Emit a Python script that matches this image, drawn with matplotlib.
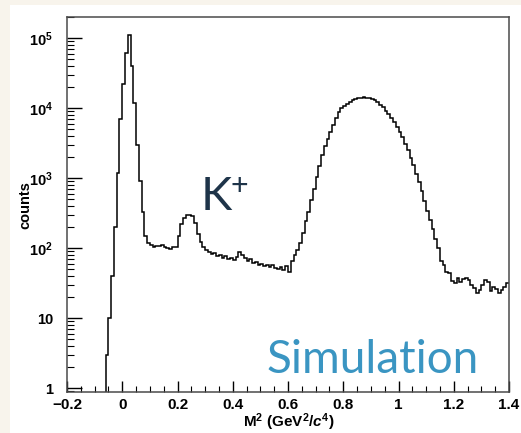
import numpy as np
import matplotlib
matplotlib.use('Agg')
import matplotlib.pyplot as plt
from matplotlib.patches import Rectangle
from matplotlib.ticker import FixedLocator, MultipleLocator

plt.rcParams['font.family'] = ['Liberation Sans', 'DejaVu Sans']
plt.rcParams['mathtext.fontset'] = 'custom'
plt.rcParams['mathtext.rm'] = 'Liberation Sans:bold'
plt.rcParams['mathtext.it'] = 'Liberation Sans:italic:bold'
plt.rcParams['mathtext.bf'] = 'Liberation Sans:bold'

# histogram: 160 bins of 0.01 from -0.2 to 1.4
edges = np.round(np.linspace(-0.2, 1.4, 161), 3)
counts = [
    0, 0, 0, 0, 0, 0, 0, 0, 0, 0,                                   # -0.20
    0, 0, 0, 0, 3, 10, 40, 200, 1200, 7000,                         # -0.10
    22000, 61000, 110000, 40000, 12000, 3000, 900, 330, 150, 118,   # 0.00
    110, 104, 108, 106, 110, 104, 100, 97, 102, 105,                # 0.10
    150, 220, 270, 295, 300, 285, 230, 160, 122, 105,               # 0.20
    94, 88, 82, 86, 76, 80, 72, 78, 70, 72,                         # 0.30
    68, 75, 88, 80, 72, 66, 70, 62, 64, 58,                         # 0.40
    60, 56, 58, 54, 57, 52, 50, 53, 48, 55,                         # 0.50
    46, 65, 80, 95, 118, 165, 240, 330, 480, 700,                   # 0.60
    1050, 1500, 2100, 2900, 3600, 4600, 5800, 7200, 8700, 9900,     # 0.70
    10600, 11600, 12300, 12900, 13400, 13700, 14000, 14200, 14100, 13900,  # 0.80
    13500, 12900, 12200, 11200, 10200, 9200, 8300, 7300, 6300, 5400,       # 0.90
    4600, 3800, 3100, 2500, 1950, 1550, 1150, 880, 650, 470,        # 1.00
    340, 250, 185, 135, 100, 66, 57, 45, 44, 34,                    # 1.10
    32, 37, 33, 36, 37, 35, 30, 27, 23, 25,                         # 1.20
    30, 35, 33, 24, 28, 26, 23, 25, 28, 32,                         # 1.30
]

y_ticks = [1, 10, 100, 1000, 10000, 100000]
y_labels = ['1', '10', '$10^{2}$', '$10^{3}$', '$10^{4}$', '$10^{5}$']
x_ticks = [-0.2, 0, 0.2, 0.4, 0.6, 0.8, 1, 1.2, 1.4]
x_labels = ['\u22120.2', '0', '0.2', '0.4', '0.6', '0.8', '1', '1.2', '1.4']

W, H = 521, 433
fig = plt.figure(figsize=(W / 100, H / 100), dpi=100)
fig.patch.set_facecolor('#f8f4ec')
fig.patches.append(Rectangle((10 / W, 0), 1, 1 - 5 / H, transform=fig.transFigure,
                             facecolor='white', edgecolor='none', zorder=-10))

ax = fig.add_axes([67 / W, 1 - 392 / H, (509 - 67) / W, (392 - 17) / H])
ax.set_zorder(1)
vals = np.maximum(np.array(counts, dtype=float), 1e-3)
ax.stairs(vals, edges, baseline=None, color='black', lw=1.1)

ax.set_yscale('log')
ax.set_xlim(-0.2, 1.4)
ax.set_ylim(0.877, 2.0e5)

ax.yaxis.set_major_locator(FixedLocator(y_ticks))
ax.set_yticklabels(y_labels, fontweight='bold', fontsize=10.5)
ax.xaxis.set_major_locator(FixedLocator(x_ticks))
ax.set_xticklabels(x_labels, fontweight='bold', fontsize=11)
ax.xaxis.set_minor_locator(MultipleLocator(0.05))

ax.tick_params(axis='both', which='both', direction='in', top=False, right=False, color='black')
ax.tick_params(axis='y', which='major', length=11, width=1, pad=10)
ax.tick_params(axis='y', which='minor', length=5, width=0.8)
ax.tick_params(axis='x', which='major', length=8, width=1, pad=4)
ax.tick_params(axis='x', which='minor', length=4.5, width=0.8)

for s in ax.spines.values():
    s.set_color('#4a4a4a')
    s.set_linewidth(1.1)

fig.text(25 / W, 1 - 205 / H, 'counts', rotation=90, fontweight='bold', fontsize=10.5,
         ha='center', va='center')
fig.text(289 / W, 1 - 422 / H, 'M$^{2}$ (GeV$^{2}$/$c^{4}$)', fontweight='bold', fontsize=11,
         ha='center', va='center')

fig.text(201 / W, 1 - 210 / H, 'K', family='Lato', fontsize=34, color='#1e3449',
         ha='left', va='baseline', zorder=5)
fig.text(239 / W, 1 - 186 / H, '+', family='Lato', fontsize=22, color='#1e3449',
         ha='center', va='center', zorder=5)
fig.text(267 / W, 1 - 373 / H, 'Simulation', family='Lato', fontsize=33, color='#3a95c2',
         ha='left', va='baseline', zorder=5)

fig.savefig('out.png', dpi=100)
